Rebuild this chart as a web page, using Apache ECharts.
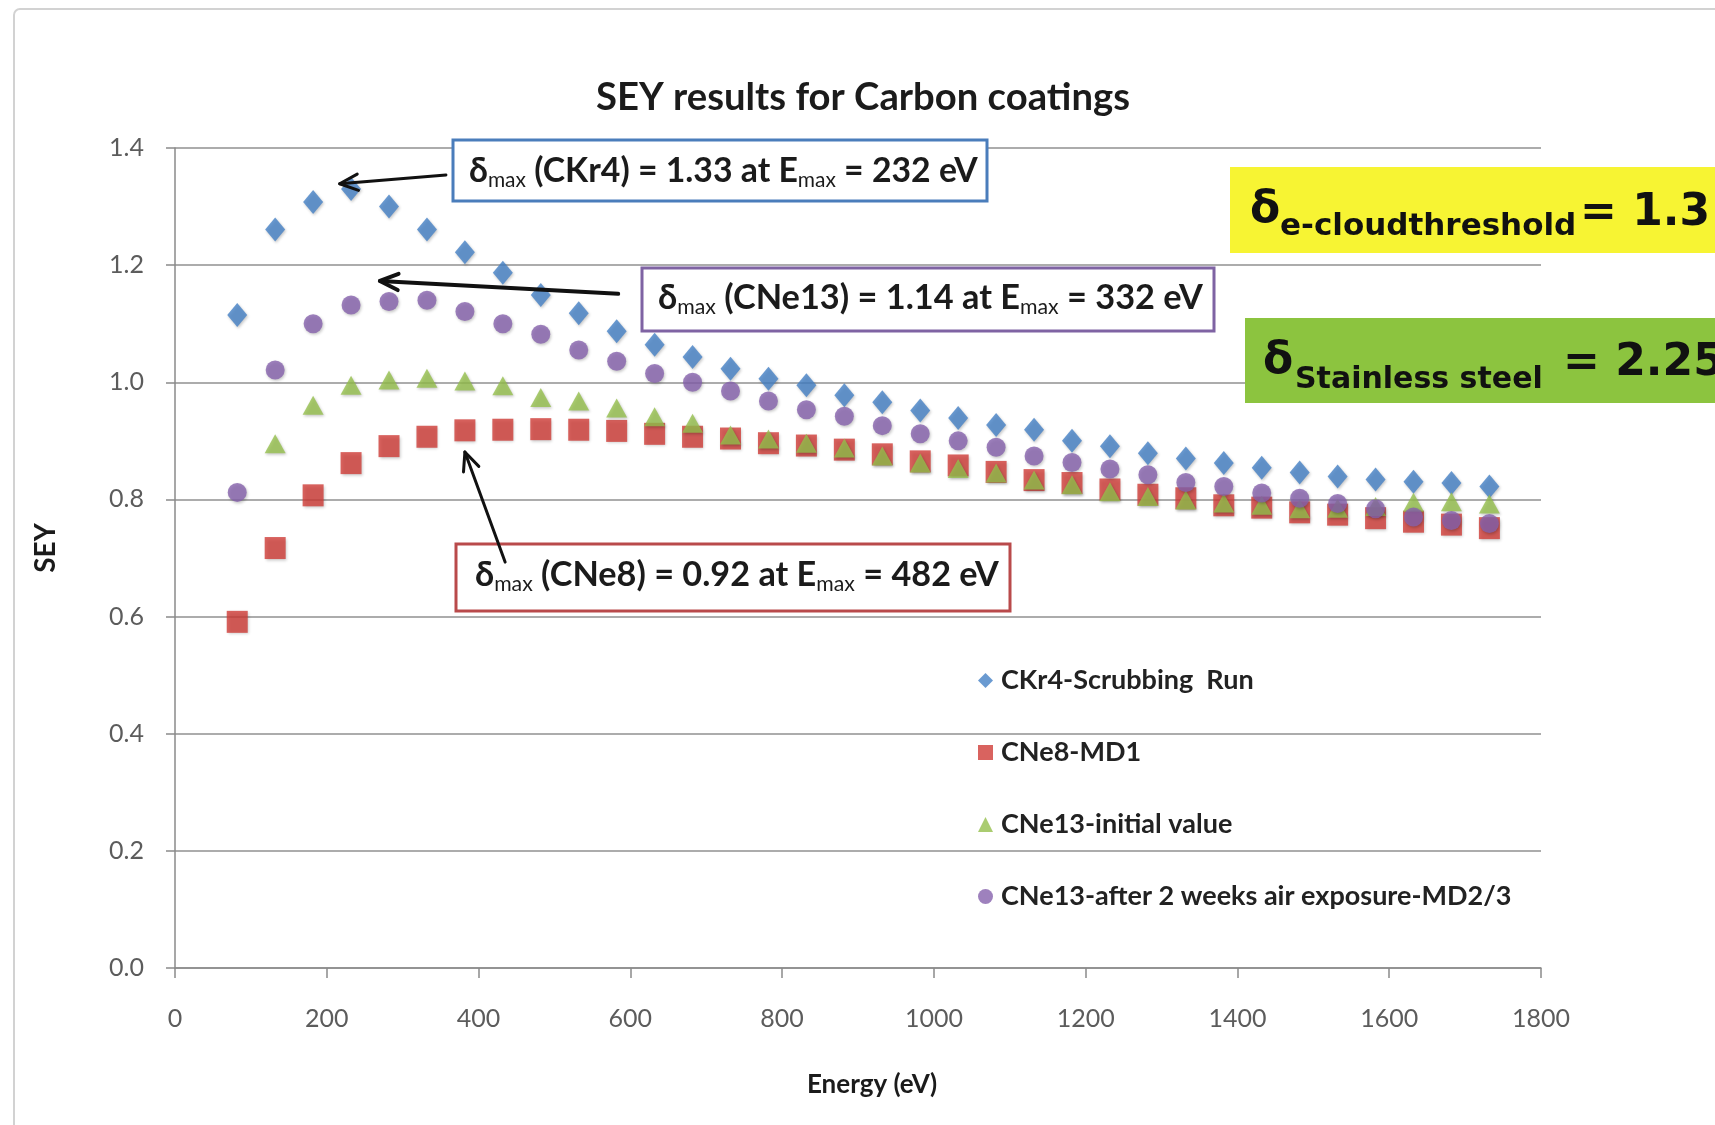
<!DOCTYPE html>
<html>
<head>
<meta charset="utf-8">
<script src="https://cdn.jsdelivr.net/npm/echarts@6/dist/echarts.min.js"></script>
<style>
  html, body { margin: 0; padding: 0; background: #ffffff; }
  #chart { width: 1715px; height: 1125px; }
</style>
</head>
<body>
<div id="chart"></div>
<script>
// Primary electron energy (eV) of each measurement
const energy = [82, 132, 182, 232, 282, 332, 382, 432, 482, 532, 582, 632, 682, 732, 782, 832, 882,
                932, 982, 1032, 1082, 1132, 1182, 1232, 1282, 1332, 1382, 1432, 1482, 1532, 1582, 1632, 1682, 1732];

// Secondary electron yield per coating
const ckr4Scrubbing = [1.115, 1.261, 1.308, 1.33, 1.300, 1.261, 1.222, 1.187, 1.149, 1.118, 1.087, 1.064,
                       1.043, 1.023, 1.006, 0.995, 0.978, 0.966, 0.952, 0.939, 0.927, 0.919, 0.900, 0.891,
                       0.879, 0.870, 0.862, 0.854, 0.846, 0.839, 0.834, 0.830, 0.828, 0.822];
const cne8Md1 = [0.591, 0.717, 0.807, 0.862, 0.891, 0.907, 0.918, 0.919, 0.92, 0.919, 0.917, 0.912,
                 0.907, 0.904, 0.896, 0.892, 0.885, 0.877, 0.865, 0.858, 0.847, 0.833, 0.828, 0.817,
                 0.808, 0.802, 0.790, 0.786, 0.778, 0.774, 0.768, 0.762, 0.757, 0.751];
const cne13Initial = [null, 0.895, 0.961, 0.995, 1.004, 1.007, 1.002, 0.994, 0.974, 0.968, 0.956, 0.941,
                      0.930, 0.910, 0.903, 0.896, 0.888, 0.874, 0.862, 0.853, 0.845, 0.833, 0.825, 0.813,
                      0.805, 0.799, 0.794, 0.790, 0.784, 0.785, 0.788, 0.795, 0.796, 0.792];
const cne13AirExposure = [0.812, 1.021, 1.100, 1.132, 1.138, 1.14, 1.121, 1.100, 1.082, 1.055, 1.036, 1.015,
                          1.000, 0.985, 0.968, 0.953, 0.942, 0.926, 0.912, 0.900, 0.889, 0.874, 0.863, 0.852,
                          0.842, 0.829, 0.822, 0.811, 0.802, 0.793, 0.784, 0.770, 0.764, 0.759];

const seriesNames = ['CKr4-Scrubbing  Run', 'CNe8-MD1', 'CNe13-initial value', 'CNe13-after 2 weeks air exposure-MD2/3'];
const xTicks = { min: 0, max: 1800, step: 200 };
const yTicks = { min: 0, max: 1.4, step: 0.2 };

const COLORS = { blue: '#4581c6', red: '#cf3c37', green: '#95bf4c', purple: '#8661ad' };
const SANS = 'Lato, "DejaVu Sans", sans-serif';
const HEAVY = '"DejaVu Sans", sans-serif';

const chart = echarts.init(document.getElementById('chart'), null, { renderer: 'canvas', width: 1715, height: 1125 });

function pairs(values) {
  const out = [];
  values.forEach((v, i) => { if (v !== null) out.push([energy[i], v]); });
  return out;
}
function marker(color) {
  return { color, shadowBlur: 3, shadowColor: 'rgba(0,0,0,0.28)', shadowOffsetX: 1, shadowOffsetY: 1.5 };
}

chart.setOption({
  animation: false,
  backgroundColor: '#ffffff',
  grid: { left: 175, right: 174, top: 148, bottom: 157, containLabel: false },
  xAxis: {
    type: 'value', min: xTicks.min, max: xTicks.max, interval: xTicks.step,
    axisLine: { show: true, lineStyle: { color: '#8a8a8a', width: 1.5 } },
    axisTick: { show: true, length: 10, lineStyle: { color: '#8a8a8a', width: 1.5 } },
    axisLabel: { margin: 38, fontFamily: SANS, fontSize: 25, color: '#5c5c5c', formatter: v => String(v) },
    splitLine: { show: false }
  },
  yAxis: {
    type: 'value', min: yTicks.min, max: yTicks.max, interval: yTicks.step,
    axisLine: { show: true, lineStyle: { color: '#8a8a8a', width: 1.5 } },
    axisTick: { show: true, length: 9, lineStyle: { color: '#8a8a8a', width: 1.5 } },
    axisLabel: { margin: 31, fontFamily: SANS, fontSize: 25, color: '#5c5c5c', formatter: v => v.toFixed(1) },
    splitLine: { show: true, lineStyle: { color: '#919191', width: 1.5 } }
  },
  legend: {
    orient: 'vertical', left: 973, top: 661, itemWidth: 15, itemHeight: 15, itemGap: 43,
    selectedMode: false,
    textStyle: { fontFamily: SANS, fontWeight: 'bold', fontSize: 27, color: '#222222', lineHeight: 29, padding: [0, 0, 0, 3] },
    data: seriesNames
  },
  series: [
    { name: seriesNames[0], type: 'scatter', symbol: 'diamond', symbolSize: [20, 24], z: 2,
      data: pairs(ckr4Scrubbing), itemStyle: marker(COLORS.blue) },
    { name: seriesNames[1], type: 'scatter', symbol: 'rect', symbolSize: [21, 22], z: 3,
      data: pairs(cne8Md1), itemStyle: marker(COLORS.red) },
    { name: seriesNames[2], type: 'scatter', symbol: 'triangle', symbolSize: [21, 19], z: 4,
      data: pairs(cne13Initial), itemStyle: marker(COLORS.green) },
    { name: seriesNames[3], type: 'scatter', symbol: 'circle', symbolSize: 19, z: 5,
      data: pairs(cne13AirExposure), itemStyle: marker(COLORS.purple) }
  ]
});

// ---- text layout helpers (measure with the same fonts the canvas uses) ----
const mctx = document.createElement('canvas').getContext('2d');
function fontStr(size, weight, family) { return `${weight} ${size}px ${family}`; }
function measureW(text, size, weight, family) {
  mctx.font = fontStr(size, weight, family);
  return mctx.measureText(text).width;
}
function baselineOffset(size, weight, family) {
  mctx.font = fontStr(size, weight, family);
  mctx.textBaseline = 'middle';
  const off = mctx.measureText('H').actualBoundingBoxDescent;
  mctx.textBaseline = 'alphabetic';
  return off;
}
function textEl(text, x, baseline, size, weight, family, color, z) {
  return {
    type: 'text', x, y: baseline - baselineOffset(size, weight, family), z: z || 50,
    style: { text, fontSize: size, fontWeight: weight, fontFamily: family, fill: color,
             align: 'left', verticalAlign: 'middle', textAlign: 'left', textVerticalAlign: 'middle' }
  };
}
// Lay out a run of fragments (with subscripts) starting at x, on a shared baseline
function run(x, baseline, parts, color) {
  const els = [];
  let cx = x;
  parts.forEach(p => {
    els.push(textEl(p.text, cx, baseline + (p.dy || 0), p.size, p.weight, p.family, color));
    cx += measureW(p.text, p.size, p.weight, p.family);
  });
  return els;
}
function runWidth(parts) {
  return parts.reduce((s, p) => s + measureW(p.text, p.size, p.weight, p.family), 0);
}
// Build a "δmax (...) = v at Emax = e eV" line fitted to a width
function deltaLine(label, value, emax, x, baseline, width) {
  const build = s => [
    { text: 'δ', size: s, weight: 'bold', family: SANS },
    { text: 'max', size: s * 0.62, weight: 'normal', family: SANS, dy: 5 },
    { text: ` (${label}) = ${value} at E`, size: s, weight: 'bold', family: SANS },
    { text: 'max', size: s * 0.62, weight: 'normal', family: SANS, dy: 5 },
    { text: ` = ${emax} eV`, size: s, weight: 'bold', family: SANS }
  ];
  const s = 28 * width / runWidth(build(28));
  return run(x, baseline, build(s), '#1b1b1b');
}
function centeredFit(text, cx, baseline, width, weight, color) {
  const s = 30 * width / measureW(text, 30, weight, SANS);
  const w = measureW(text, s, weight, SANS);
  return textEl(text, cx - w / 2, baseline, s, weight, SANS, color);
}
function arrow(from, to, width) {
  const a = chart.convertToPixel({ gridIndex: 0 }, from);
  const b = chart.convertToPixel({ gridIndex: 0 }, to);
  const ang = Math.atan2(a[1] - b[1], a[0] - b[0]);
  const len = 20, spread = 0.42;
  const p1 = [b[0] + len * Math.cos(ang + spread), b[1] + len * Math.sin(ang + spread)];
  const p2 = [b[0] + len * Math.cos(ang - spread), b[1] + len * Math.sin(ang - spread)];
  const ls = { stroke: '#111111', lineWidth: width, lineCap: 'round', lineJoin: 'round', fill: null };
  return [
    { type: 'polyline', z: 60, shape: { points: [a, b] }, style: ls },
    { type: 'polyline', z: 60, shape: { points: [p1, b, p2] }, style: ls }
  ];
}
function box(x, y, w, h, stroke, fill, lw) {
  return { type: 'rect', z: 40, shape: { x, y, width: w, height: h },
           style: { fill: fill, stroke: stroke, lineWidth: lw } };
}

const graphics = [];
// outer chart frame
graphics.push({ type: 'rect', z: -10, shape: { x: 14, y: 9, width: 1760, height: 1200, r: 6 },
                style: { fill: null, stroke: '#d2d2d2', lineWidth: 2 } });
// title and axis names
graphics.push(centeredFit('SEY results for Carbon coatings', 863, 110, 534, 'bold', '#1b1b1b'));
graphics.push(textEl('Energy (eV)', 872 - measureW('Energy (eV)', 26, 'bold', SANS) / 2, 1093, 26, 'bold', SANS, '#1b1b1b'));
graphics.push({
  type: 'text', x: 46, y: 548, rotation: Math.PI / 2, z: 50,
  style: { text: 'SEY', fontSize: 28, fontWeight: 'bold', fontFamily: SANS, fill: '#1b1b1b',
           align: 'center', verticalAlign: 'middle', textAlign: 'center', textVerticalAlign: 'middle' }
});

// peak annotations
graphics.push(box(453, 140, 534, 61, '#4a7dbb', '#ffffff', 3));
graphics.push(...deltaLine('CKr4', '1.33', 232, 469, 182, 509));
graphics.push(box(642, 268, 572, 63, '#7f63a3', '#ffffff', 3));
graphics.push(...deltaLine('CNe13', '1.14', 332, 658, 309, 545));
graphics.push(box(456, 544, 554, 67, '#b94a4b', '#ffffff', 3));
graphics.push(...deltaLine('CNe8', '0.92', 482, 475, 586, 524));

graphics.push(...arrow([357, 1.354], [217, 1.339], 3));
graphics.push(...arrow([584, 1.151], [270, 1.173], 4));
graphics.push(...arrow([435, 0.693], [382, 0.881], 3));

// reference yields
graphics.push(box(1230, 167, 520, 86, null, '#f7f433', 0));
graphics.push(textEl('δ', 1250, 222, 44, 'bold', HEAVY, '#111111'));
graphics.push(textEl('e-cloudthreshold', 1280, 235, 31, 'bold', HEAVY, '#111111'));
graphics.push(textEl('= 1.3', 1580, 225, 44, 'bold', HEAVY, '#111111'));

graphics.push(box(1245, 318, 500, 85, null, '#8cc43f', 0));
graphics.push(textEl('δ', 1263, 373, 44, 'bold', HEAVY, '#111111'));
graphics.push(textEl('Stainless steel', 1295, 388, 30, 'bold', HEAVY, '#111111'));
graphics.push(textEl('= 2.25', 1563, 375, 44, 'bold', HEAVY, '#111111'));

chart.setOption({ graphic: { elements: graphics } });
</script>
</body>
</html>
